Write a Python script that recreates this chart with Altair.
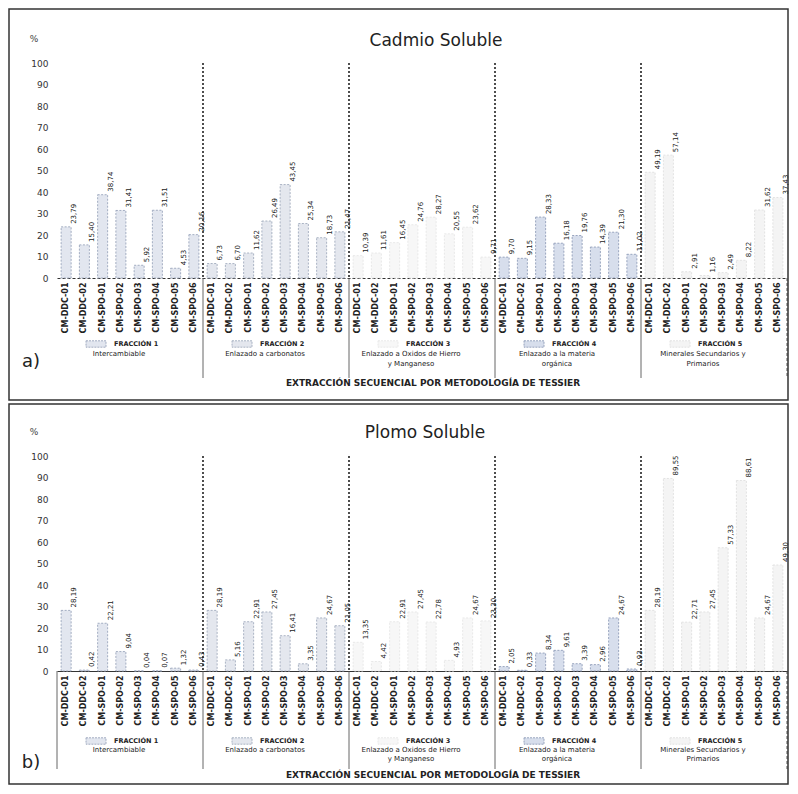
import altair as alt
import pandas as pd

samples = ["CM-DDC-01", "CM-DDC-02", "CM-SPO-01", "CM-SPO-02",
           "CM-SPO-03", "CM-SPO-04", "CM-SPO-05", "CM-SPO-06"]
fractions = ["FRACCIÓN 1", "FRACCIÓN 2", "FRACCIÓN 3", "FRACCIÓN 4", "FRACCIÓN 5"]
desc_line1 = ["Intercambiable", "Enlazado a carbonatos", "Enlazado a Oxidos de Hierro",
              "Enlazado a la materia", "Minerales Secundarios y"]
desc_line2 = ["", "", "y Manganeso", "orgánica", "Primarios"]

# Cadmio Soluble (%)
cd_f1 = [23.79, 15.40, 38.74, 31.41, 5.92, 31.51, 4.53, 20.16]
cd_f2 = [6.73, 6.70, 11.62, 26.49, 43.45, 25.34, 18.73, 21.47]
cd_f3 = [10.39, 11.61, 16.45, 24.76, 28.27, 20.55, 23.62, 9.71]
cd_f4 = [9.70, 9.15, 28.33, 16.18, 19.76, 14.39, 21.30, 11.02]
cd_f5 = [49.19, 57.14, 2.91, 1.16, 2.49, 8.22, 31.62, 37.43]

# Plomo Soluble (%)
pb_f1 = [28.19, 0.42, 22.21, 9.04, 0.04, 0.07, 1.32, 0.43]
pb_f2 = [28.19, 5.16, 22.91, 27.45, 16.41, 3.35, 24.67, 21.05]
pb_f3 = [13.35, 4.42, 22.91, 27.45, 22.78, 4.93, 24.67, 23.30]
pb_f4 = [2.05, 0.33, 8.34, 9.61, 3.39, 2.96, 24.67, 0.93]
pb_f5 = [28.19, 89.55, 22.71, 27.45, 57.33, 88.61, 24.67, 49.30]

fill_colors = ["#e2e6ef", "#e4e7ee", "#f7f7f7", "#d7deec", "#f4f4f4"]
stroke_colors = ["#9aa5bb", "#a2abbd", "#e6e6e6", "#8e9cb8", "#e0e0e0"]

FONT = "DejaVu Sans"
W = 730
H = 215
TXT = "#222222"


def build(vals_lists, title, letter, lay, domain_dash):
    rows = []
    for g, vals in enumerate(vals_lists):
        for s, v in zip(samples, vals):
            rows.append({"key": f"F{g + 1}|{s}", "frac": fractions[g], "v": v})
    df = pd.DataFrame(rows)
    keys = list(df["key"])
    xscale = alt.Scale(domain=keys, paddingInner=0, paddingOuter=0)
    yscale = alt.Scale(domain=[0, 100], nice=False)
    fill_scale = alt.Scale(domain=fractions, range=fill_colors)
    stroke_scale = alt.Scale(domain=fractions, range=stroke_colors)

    xaxis_kw = dict(labelExpr="split(datum.value, '|')[1]", labelAngle=270,
                    labelFontSize=8, labelFontWeight="bold", labelColor=TXT, labelFont=FONT,
                    labelPadding=4, ticks=False, domainColor="#333333", domainWidth=1.2,
                    labelOverlap=False, grid=False)
    if domain_dash:
        xaxis_kw["domainDash"] = [3, 2]
    xaxis = alt.Axis(**xaxis_kw)
    yaxis = alt.Axis(values=list(range(0, 101, 10)), grid=False, domain=False, ticks=False,
                     labelFontSize=9, labelColor="#333333", labelPadding=9, labelFont=FONT)

    def X(bp=None):
        if bp is None:
            return alt.X("key:N", scale=xscale, axis=xaxis, title=None)
        return alt.X("key:N", scale=xscale, axis=xaxis, title=None, bandPosition=bp)

    def Y(field):
        return alt.Y(field, scale=yscale, axis=yaxis, title=None)

    bars = alt.Chart(df).mark_bar(width=10, strokeDash=[2, 1.5], strokeWidth=0.9).encode(
        x=X(), y=Y("v:Q"),
        fill=alt.Fill("frac:N", scale=fill_scale, legend=None),
        stroke=alt.Stroke("frac:N", scale=stroke_scale, legend=None),
    )

    labels = alt.Chart(df).transform_calculate(
        lbl="replace(format(datum.v, '.2f'), '.', ',')"
    ).mark_text(angle=270, align="left", baseline="middle", dx=3, dy=8,
                fontSize=7, font=FONT, color=TXT).encode(
        x=X(), y=Y("v:Q"), text="lbl:N",
    )

    div_df = pd.DataFrame({
        "key": [f"F{g + 1}|{samples[0]}" for g in range(1, 5)],
        "top": [100] * 4, "bot": [0] * 4,
    })
    dividers = alt.Chart(div_df).mark_rule(strokeDash=[2, 2], strokeWidth=1.6, color="#222222").encode(
        x=X(0), y=Y("top:Q"), y2="bot:Q",
    )

    first = 0 if lay["left_line"] else 1
    below_df = pd.DataFrame({"key": [f"F{g + 1}|{samples[0]}" for g in range(first, 5)]})
    below = alt.Chart(below_df).mark_rule(strokeWidth=0.9, color="#555555").encode(
        x=X(0), y=alt.value(H), y2=alt.value(H + lay["sep"]),
    )
    right_df = pd.DataFrame({"key": [f"F5|{samples[-1]}"]})
    right_line = alt.Chart(right_df).mark_rule(strokeWidth=1, color="#555555", strokeDash=[3, 2]).encode(
        x=X(1), y=alt.value(H), y2=alt.value(H + lay["sep"]),
    )

    leg_df = pd.DataFrame({
        "key": [f"F{g + 1}|{samples[3]}" for g in range(5)],
        "frac": fractions, "d1": desc_line1, "d2": desc_line2,
    })
    swatch = alt.Chart(leg_df).mark_point(
        shape="M-1,-0.32L1,-0.32L1,0.32L-1,0.32Z", size=400, filled=True,
        strokeDash=[2, 1], strokeWidth=0.9, xOffset=-34, opacity=1,
    ).encode(
        x=X(1), y=alt.value(H + lay["row"]),
        fill=alt.Fill("frac:N", scale=fill_scale, legend=None),
        stroke=alt.Stroke("frac:N", scale=stroke_scale, legend=None),
    )
    frac_txt = alt.Chart(leg_df).mark_text(align="left", baseline="middle", dx=-16,
                                           fontSize=6.5, fontWeight="bold", font=FONT, color=TXT).encode(
        x=X(1), y=alt.value(H + lay["row"]), text="frac:N")
    d1_txt = alt.Chart(leg_df).mark_text(align="center", baseline="middle", dx=-11,
                                         fontSize=7, font=FONT, color=TXT).encode(
        x=X(1), y=alt.value(H + lay["l1"]), text="d1:N")
    d2_txt = alt.Chart(leg_df).mark_text(align="center", baseline="middle", dx=-11,
                                         fontSize=7, font=FONT, color=TXT).encode(
        x=X(1), y=alt.value(H + lay["l2"]), text="d2:N")

    one = pd.DataFrame({"t": [title], "pct": ["%"], "letter": [letter],
                        "foot": ["EXTRACCIÓN SECUENCIAL POR METODOLOGÍA DE TESSIER"]})
    title_txt = alt.Chart(one).mark_text(align="center", baseline="alphabetic", fontSize=17,
                                         font=FONT, color=TXT).encode(
        x=alt.value(lay["title_x"]), y=alt.value(-lay["title_y"]), text="t:N")
    pct_txt = alt.Chart(one).mark_text(align="center", baseline="middle", fontSize=9,
                                       font=FONT, color="#444444").encode(
        x=alt.value(-23), y=alt.value(-24), text="pct:N")
    letter_txt = alt.Chart(one).mark_text(align="center", baseline="middle", fontSize=18,
                                          font=FONT, color=TXT).encode(
        x=alt.value(-26), y=alt.value(H + lay["letter"]), text="letter:N")
    foot_txt = alt.Chart(one).mark_text(align="center", baseline="middle", fontSize=9,
                                        fontWeight="bold", font=FONT, color=TXT).encode(
        x=alt.value(376), y=alt.value(H + lay["foot"]), text="foot:N")

    frame = alt.Chart(one).mark_rect(fillOpacity=0, stroke="#333333", strokeWidth=1.5).encode(
        x=alt.value(-48), x2=alt.value(731),
        y=alt.value(-lay["top"]), y2=alt.value(H + lay["bottom"]),
    )

    return alt.layer(bars, labels, dividers, below, right_line, swatch, frac_txt,
                     d1_txt, d2_txt, title_txt, pct_txt, letter_txt, foot_txt, frame).properties(
        width=W, height=H)


lay_a = dict(sep=100, row=66, l1=76, l2=86, letter=84, foot=105, bottom=122, top=54,
             title_x=379, title_y=17, left_line=False)
lay_b = dict(sep=98, row=70, l1=79, l2=88, letter=92, foot=104, bottom=113, top=52,
             title_x=368, title_y=18, left_line=True)

panel_a = build([cd_f1, cd_f2, cd_f3, cd_f4, cd_f5], "Cadmio Soluble", "a)", lay_a, True)
panel_b = build([pb_f1, pb_f2, pb_f3, pb_f4, pb_f5], "Plomo Soluble", "b)", lay_b, False)

chart = alt.vconcat(panel_a, panel_b, spacing=2).properties(padding=0).configure(
    background="white", font=FONT
).configure_view(stroke=None)

chart.save("out.html", embed_options={"renderer": "svg", "actions": False})
